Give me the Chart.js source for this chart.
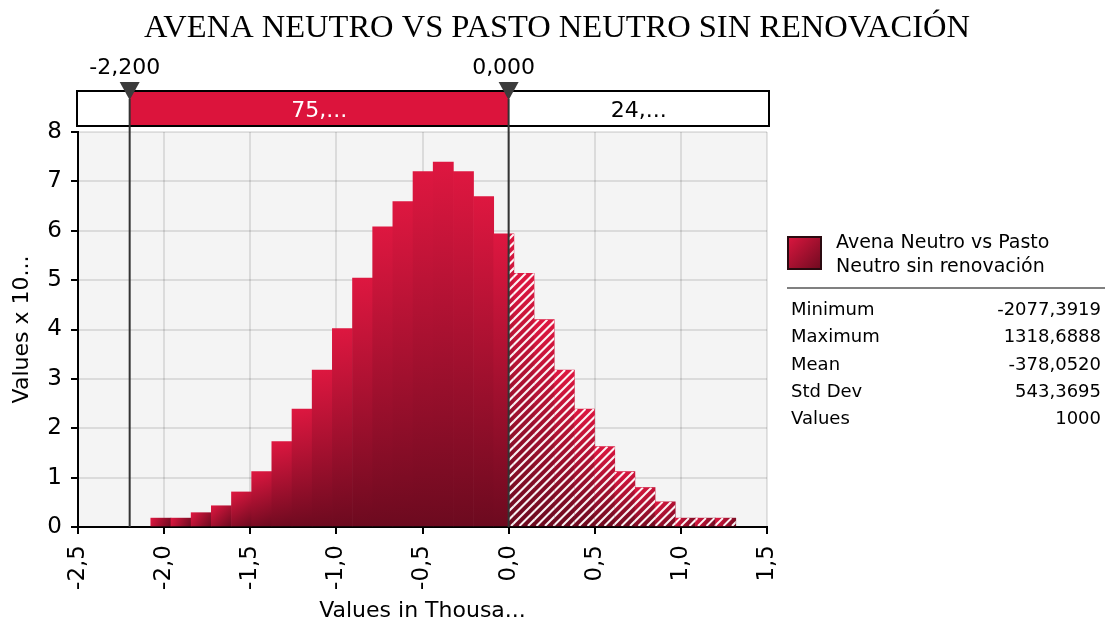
<!DOCTYPE html>
<html>
<head>
<meta charset="utf-8">
<script src="https://cdn.jsdelivr.net/npm/chart.js@4.4.1/dist/chart.umd.min.js"></script>
<style>
  html, body { margin: 0; padding: 0; background: #fff; }
  #wrap { width: 1105px; height: 624px; }
</style>
</head>
<body>
<div id="wrap"><canvas id="histChart" width="1105" height="624"></canvas></div>
<script>
// Chart data (values in thousands, density x 10^-4)
const chartTitle = 'AVENA NEUTRO VS PASTO NEUTRO SIN RENOVACIÓN';
const binEdges = [-2.0774, -1.9603, -1.8432, -1.7261, -1.6090, -1.4918, -1.3747, -1.2576,
    -1.1405, -1.0234, -0.9063, -0.7892, -0.6721, -0.5550, -0.4379, -0.3208, -0.2037,
    -0.0866, 0.0305, 0.1477, 0.2648, 0.3819, 0.4990, 0.6161, 0.7332, 0.8503, 0.9674,
    1.0845, 1.2016, 1.3187];
const density = [0.18, 0.18, 0.29, 0.43, 0.71, 1.12, 1.73, 2.39, 3.18, 4.02, 5.04, 6.08,
    6.59, 7.2, 7.39, 7.2, 6.69, 5.94, 5.14, 4.2, 3.18, 2.39, 1.63, 1.12, 0.8, 0.51,
    0.18, 0.18, 0.18];
const xTicks = [-2.5, -2.0, -1.5, -1.0, -0.5, 0.0, 0.5, 1.0, 1.5];
const yTicks = [0, 1, 2, 3, 4, 5, 6, 7, 8];
const markerValues = [-2.2, 0.0];
const markerLabels = ['-2,200', '0,000'];
const bandLabels = ['75,...', '24,...'];
const seriesName = ['Avena Neutro vs Pasto', 'Neutro sin renovación'];
const statNames = ['Minimum', 'Maximum', 'Mean', 'Std Dev', 'Values'];
const statValues = ['-2077,3919', '1318,6888', '-378,0520', '543,3695', '1000'];

const FONT = "'DejaVu Sans', Verdana, sans-serif";
Chart.defaults.font.family = FONT;
Chart.defaults.color = '#000';

function fmtComma(v) {
    return v.toFixed(1).replace('.', ',');
}

function barGradient(ctx, x0, y0, x1, y1) {
    const g = ctx.createLinearGradient(x0, y0, x1, y1);
    g.addColorStop(0, '#de1740');
    g.addColorStop(1, '#6c0a1f');
    return g;
}

// Plot background
const backgroundPlugin = {
    id: 'plotBackground',
    beforeDraw(chart) {
        const { ctx, chartArea } = chart;
        ctx.save();
        ctx.fillStyle = '#f4f4f4';
        ctx.fillRect(chartArea.left, chartArea.top, chartArea.right - chartArea.left, chartArea.bottom - chartArea.top);
        ctx.restore();
    }
};

// White diagonal hatch on the part of the bars right of the 0 marker
const hatchPlugin = {
    id: 'hatch',
    afterDatasetsDraw(chart) {
        const { ctx, scales } = chart;
        const zeroX = scales.x.getPixelForValue(markerValues[1]);
        const step = 8.5;
        ctx.save();
        chart.getDatasetMeta(0).data.forEach(bar => {
            const left = Math.max(bar.x - bar.width / 2, zeroX);
            const right = bar.x + bar.width / 2;
            if (right <= left) return;
            ctx.save();
            ctx.beginPath();
            ctx.rect(left, bar.y, right - left, bar.base - bar.y);
            ctx.clip();
            ctx.strokeStyle = 'rgba(255,255,255,0.95)';
            ctx.lineWidth = 2;
            let c = Math.floor((left + bar.y) / step) * step;
            for (; c < right + bar.base + step; c += step) {
                ctx.beginPath();
                ctx.moveTo(c - bar.base, bar.base);
                ctx.lineTo(c - bar.y, bar.y);
                ctx.stroke();
            }
            ctx.restore();
        });
        ctx.restore();
    }
};

// Title, delimiter band, marker lines and the legend / stats panel
const decorPlugin = {
    id: 'decor',
    afterDraw(chart) {
        const { ctx, chartArea, scales } = chart;
        const mx = markerValues.map(v => scales.x.getPixelForValue(v));
        ctx.save();

        // title
        ctx.fillStyle = '#000';
        ctx.font = "32.5px 'Liberation Serif', 'Times New Roman', serif";
        ctx.textAlign = 'center';
        ctx.textBaseline = 'alphabetic';
        ctx.fillText(chartTitle, 557, 37);

        // band
        const bandL = chartArea.left - 1, bandR = chartArea.right + 2;
        const bandT = 91, bandB = 126;
        ctx.fillStyle = '#fff';
        ctx.fillRect(bandL, bandT, bandR - bandL, bandB - bandT);
        ctx.fillStyle = '#dc143c';
        ctx.fillRect(mx[0], bandT, mx[1] - mx[0], bandB - bandT);
        ctx.strokeStyle = '#000';
        ctx.lineWidth = 2;
        ctx.strokeRect(bandL, bandT, bandR - bandL, bandB - bandT);

        ctx.font = '22px ' + FONT;
        ctx.fillStyle = '#fff';
        ctx.fillText(bandLabels[0], (mx[0] + mx[1]) / 2, 117);
        ctx.fillStyle = '#000';
        ctx.fillText(bandLabels[1], (mx[1] + bandR) / 2, 117);

        // marker lines
        ctx.strokeStyle = '#333';
        ctx.lineWidth = 2;
        mx.forEach(x => {
            ctx.beginPath();
            ctx.moveTo(x, 99);
            ctx.lineTo(x, chartArea.bottom);
            ctx.stroke();
        });

        // triangles + labels
        ctx.font = '22px ' + FONT;
        mx.forEach((x, i) => {
            ctx.fillStyle = '#3c3c3c';
            ctx.beginPath();
            ctx.moveTo(x - 10, 82);
            ctx.lineTo(x + 10, 82);
            ctx.lineTo(x, 100);
            ctx.closePath();
            ctx.fill();
            ctx.fillStyle = '#000';
            ctx.fillText(markerLabels[i], x - 5, 74);
        });

        // legend swatch
        ctx.fillStyle = barGradient(ctx, 787, 236, 822, 270);
        ctx.fillRect(787, 236, 35, 34);
        ctx.strokeStyle = '#2a0a10';
        ctx.lineWidth = 2;
        ctx.strokeRect(788, 237, 33, 32);

        ctx.textAlign = 'left';
        ctx.fillStyle = '#000';
        ctx.font = '19px ' + FONT;
        ctx.fillText(seriesName[0], 836, 248);
        ctx.fillText(seriesName[1], 836, 272);

        ctx.strokeStyle = '#808080';
        ctx.lineWidth = 2;
        ctx.beginPath();
        ctx.moveTo(787, 288);
        ctx.lineTo(1105, 288);
        ctx.stroke();

        ctx.font = '18px ' + FONT;
        statNames.forEach((name, i) => {
            const y = 315 + i * 27.3;
            ctx.textAlign = 'left';
            ctx.fillText(name, 791, y);
            ctx.textAlign = 'right';
            ctx.fillText(statValues[i], 1101, y);
        });
        ctx.restore();
    }
};

const ctx = document.getElementById('histChart').getContext('2d');
new Chart(ctx, {
    type: 'bar',
    data: {
        datasets: [{
            label: seriesName.join(' '),
            data: density.map((d, i) => ({ x: (binEdges[i] + binEdges[i + 1]) / 2, y: d })),
            backgroundColor: function(c) {
                const chart = c.chart;
                if (!chart.chartArea || c.type !== 'data') return '#c8102e';
                const xs = chart.scales.x, ys = chart.scales.y;
                const top = ys.getPixelForValue(c.raw.y);
                const bottom = ys.getPixelForValue(0);
                const x0 = xs.getPixelForValue(binEdges[c.dataIndex]);
                const x1 = xs.getPixelForValue(binEdges[c.dataIndex + 1]);
                return barGradient(chart.ctx, x0, top, x1, bottom);
            },
            borderWidth: 0,
            barPercentage: 1,
            categoryPercentage: 1
        }]
    },
    options: {
        responsive: false,
        animation: false,
        devicePixelRatio: 1,
        layout: { padding: { left: 0, top: 132, right: 338, bottom: 0 } },
        plugins: {
            legend: { display: false },
            tooltip: { enabled: false }
        },
        scales: {
            x: {
                type: 'linear',
                min: -2.5,
                max: 1.5,
                offset: false,
                z: 1,
                afterBuildTicks: s => { s.ticks = xTicks.map(v => ({ value: v })); },
                afterFit: s => { s.height = 97; s.paddingLeft = 0; s.paddingRight = 0; },
                ticks: {
                    minRotation: 90,
                    maxRotation: 90,
                    padding: 11,
                    font: { size: 23 },
                    callback: v => fmtComma(v)
                },
                grid: { offset: false, color: 'rgba(0,0,0,0.1)', lineWidth: 2, tickColor: '#000', tickLength: 7, tickWidth: 2 },
                border: { color: '#000', width: 2 },
                title: { display: true, text: 'Values in Thousa...', font: { size: 22 }, padding: { top: 0, bottom: 0 } }
            },
            y: {
                min: 0,
                max: 8,
                z: 1,
                afterBuildTicks: s => { s.ticks = yTicks.map(v => ({ value: v })); },
                afterFit: s => { s.width = 78; s.paddingTop = 0; s.paddingBottom = 0; },
                ticks: { padding: 9, font: { size: 23 } },
                grid: { color: 'rgba(0,0,0,0.1)', lineWidth: 2, tickColor: '#000', tickLength: 7, tickWidth: 2 },
                border: { color: '#000', width: 2 },
                title: { display: true, text: 'Values x 10...', font: { size: 22 }, padding: { top: 9, bottom: 0 } }
            }
        }
    },
    plugins: [backgroundPlugin, hatchPlugin, decorPlugin]
});
</script>
</body>
</html>
